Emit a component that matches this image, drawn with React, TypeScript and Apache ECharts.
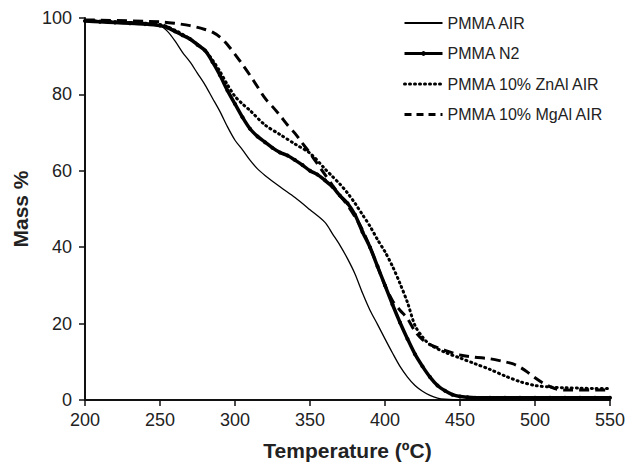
import React, { useEffect, useRef } from "react";
import * as echarts from "echarts";

const airT = [200, 210, 220, 230, 240, 250, 255, 260, 265, 270, 275, 280, 285, 290, 295, 300, 305, 310, 315, 320, 330, 340, 350, 360, 365, 370, 375, 380, 385, 390, 395, 400, 405, 410, 415, 420, 425, 430, 435, 440, 450, 500, 550];
const airM = [99.5, 99.3, 99.1, 99, 98.8, 98, 96.5, 94, 91, 88.5, 85.5, 82.5, 79, 75.5, 71.5, 68, 65.5, 62.8, 60.5, 58.8, 55.8, 53, 49.8, 46.5, 43.5, 40.5, 37, 33, 28, 23.5, 19.8, 16, 12.3, 8.8, 6, 3.8, 2.3, 1.2, 0.5, 0.2, 0, 0, 0];

const n2T = [200, 210, 220, 230, 240, 250, 255, 260, 265, 270, 275, 280, 285, 290, 295, 300, 305, 310, 315, 320, 325, 330, 335, 340, 345, 350, 355, 360, 365, 370, 375, 380, 385, 390, 395, 400, 405, 410, 415, 420, 425, 430, 435, 440, 445, 450, 455, 460, 470, 480, 490, 500, 510, 520, 530, 540, 550];
const n2M = [99.2, 99, 98.8, 98.6, 98.4, 98, 97.5, 96.5, 95.5, 94.5, 93, 91.5, 88.5, 85, 81, 77.5, 74, 71, 69, 67.5, 66, 64.8, 64, 62.8, 61.5, 60, 59, 57.5, 55.8, 53.5, 51.5, 48.5, 44, 40, 35, 30, 25, 20.3, 16, 12, 8.8, 6, 3.8, 2.4, 1.4, 0.9, 0.7, 0.6, 0.6, 0.6, 0.6, 0.6, 0.6, 0.6, 0.6, 0.6, 0.6];

const znT = [200, 250, 260, 270, 280, 285, 290, 295, 300, 305, 310, 320, 330, 340, 350, 360, 365, 370, 375, 380, 385, 390, 395, 400, 405, 410, 415, 420, 425, 430, 440, 450, 460, 470, 480, 490, 500, 510, 520, 530, 540, 550];
const znM = [99.3, 98.3, 96.8, 94.5, 91.5, 89, 86, 82.5, 79.5, 77.5, 75.8, 72, 69.5, 67, 64.6, 60.5, 58.5, 56.5, 54.2, 51.5, 48.5, 45.5, 42, 38.8, 35, 30.5, 25.5, 19.5, 16.5, 14.5, 12.5, 11, 9.5, 8, 6.3, 4.8, 3.8, 3.4, 3.2, 3.1, 3, 3];

const mgT = [200, 250, 260, 270, 280, 285, 290, 295, 300, 305, 310, 315, 320, 325, 330, 335, 340, 345, 350, 355, 360, 365, 370, 375, 380, 385, 390, 395, 400, 405, 410, 415, 420, 425, 430, 440, 450, 460, 470, 480, 485, 490, 495, 500, 505, 510, 515, 520, 550];
const mgM = [99.5, 99, 98.6, 98, 97, 96.3, 95, 93, 90.5, 87.8, 85, 82, 79, 76.8, 74.5, 72, 69.8, 67.2, 64.6, 61.8, 59, 56.2, 53.5, 51, 48, 44.5, 40, 35, 30, 26, 23.5, 21.3, 18, 15.8, 14.5, 13, 11.8, 11.2, 10.8, 10, 9.5, 8.6, 7.3, 5.8, 4.5, 3.5, 2.8, 2.6, 2.6];

const seriesNames = ["PMMA AIR", "PMMA N2", "PMMA 10% ZnAl AIR", "PMMA 10% MgAl AIR"];
const xTicks = { min: 200, max: 550, interval: 50 };
const yTicks = { min: 0, max: 100, interval: 20 };

const zip = (t: number[], m: number[]) => t.map((v, i) => [v, m[i]]);

export default function App() {
  const ref = useRef<HTMLDivElement>(null);
  useEffect(() => {
    if (!ref.current) return;
    const chart = echarts.init(ref.current, null, { renderer: "svg" });
    const font = "Liberation Sans, Arial, sans-serif";
    chart.setOption({
      animation: false,
      backgroundColor: "#fff",
      grid: { left: 85, right: 17, top: 18, bottom: 62, outerBoundsMode: "none" },
      legend: {
        orient: "vertical",
        left: 398,
        top: 10,
        itemWidth: 38,
        itemHeight: 6,
        itemGap: 14.5,
        textStyle: { fontFamily: font, fontSize: 16, color: "#222" },
        data: [
          { name: seriesNames[0], itemStyle: { opacity: 0 }, lineStyle: { width: 2 } },
          { name: seriesNames[1], lineStyle: { width: 3 } },
          { name: seriesNames[2], itemStyle: { opacity: 0 }, lineStyle: { width: 3 } },
          { name: seriesNames[3], itemStyle: { opacity: 0 }, lineStyle: { width: 3, type: [7, 5] } },
        ],
      },
      xAxis: {
        type: "value",
        min: xTicks.min,
        max: xTicks.max,
        interval: xTicks.interval,
        name: "Temperature (ºC)",
        nameLocation: "middle",
        nameGap: 40,
        nameTextStyle: { fontFamily: font, fontSize: 21, fontWeight: "bold", color: "#222" },
        axisLine: { lineStyle: { color: "#111", width: 2 } },
        axisTick: { show: true, length: 6, lineStyle: { color: "#111", width: 1.5 } },
        axisLabel: { fontFamily: font, fontSize: 18, color: "#222", margin: 11 },
        splitLine: { show: false },
      },
      yAxis: {
        type: "value",
        min: yTicks.min,
        max: yTicks.max,
        interval: yTicks.interval,
        name: "Mass %",
        nameLocation: "middle",
        nameGap: 53,
        nameTextStyle: { fontFamily: font, fontSize: 21, fontWeight: "bold", color: "#222" },
        axisLine: { show: true, lineStyle: { color: "#111", width: 2 } },
        axisTick: { show: true, length: 6, lineStyle: { color: "#111", width: 1.5 } },
        axisLabel: { fontFamily: font, fontSize: 18, color: "#222", margin: 13 },
        splitLine: { show: false },
      },
      series: [
        {
          name: seriesNames[0],
          type: "line",
          data: zip(airT, airM),
          smooth: 0.3,
          symbol: "none",
          lineStyle: { color: "#000", width: 1.3, type: "solid" },
          itemStyle: { color: "#000" },
          z: 4,
        },
        {
          name: seriesNames[1],
          type: "line",
          data: zip(n2T, n2M),
          smooth: 0.3,
          symbol: "circle",
          symbolSize: 4,
          showSymbol: true,
          lineStyle: { color: "#000", width: 3.5, type: "solid" },
          itemStyle: { color: "#000" },
          z: 3,
        },
        {
          name: seriesNames[2],
          type: "line",
          data: zip(znT, znM),
          smooth: 0.3,
          symbol: "none",
          lineStyle: { color: "#000", width: 3, type: [1, 4], cap: "round" },
          itemStyle: { color: "#000" },
          z: 2,
        },
        {
          name: seriesNames[3],
          type: "line",
          data: zip(mgT, mgM),
          smooth: 0.3,
          symbol: "none",
          lineStyle: { color: "#000", width: 3, type: [10, 6] },
          itemStyle: { color: "#000" },
          z: 2,
        },
      ],
    });
    return () => chart.dispose();
  }, []);
  return <div ref={ref} style={{ position: "fixed", left: 0, top: 0, width: 627, height: 462 }} />;
}
